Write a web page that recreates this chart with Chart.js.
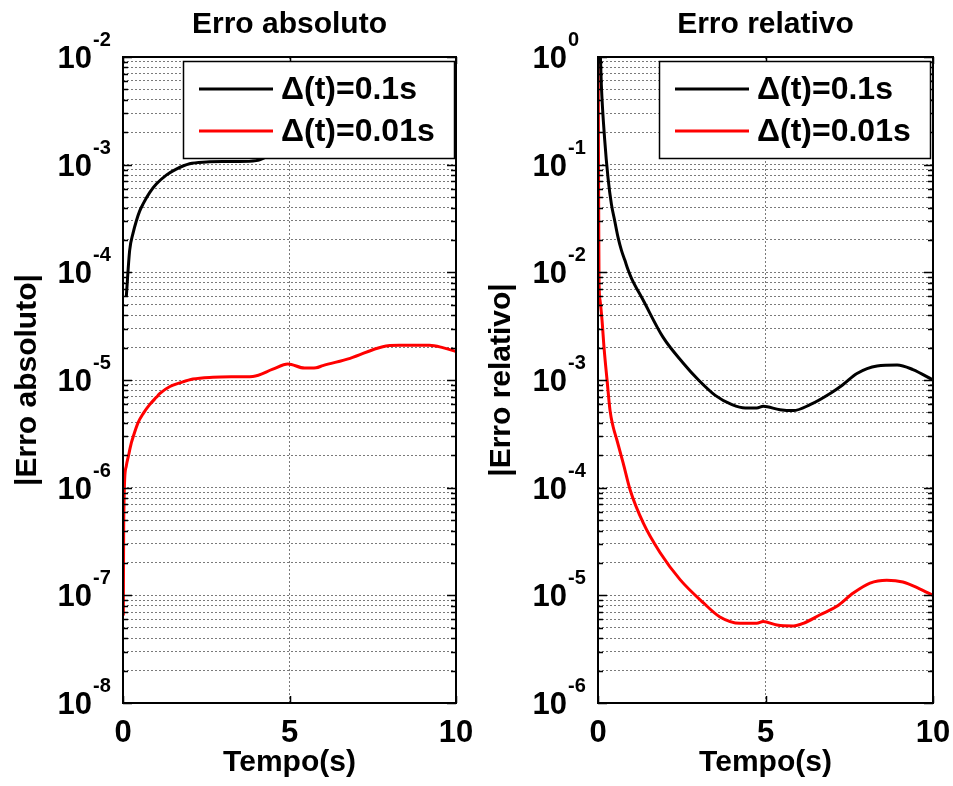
<!DOCTYPE html>
<html>
<head>
<meta charset="utf-8">
<script src="https://cdn.jsdelivr.net/npm/chart.js@4/dist/chart.umd.min.js"></script>
<style>
  html, body { margin: 0; padding: 0; background: #ffffff; }
  body { width: 953px; height: 786px; overflow: hidden; position: relative; }
  canvas { position: absolute; top: 0; }
</style>
</head>
<body>
<canvas id="chartAbs" width="485" height="786" style="left:0px"></canvas>
<canvas id="chartRel" width="468" height="786" style="left:485px"></canvas>
<script>
// ---------- data ----------
const seriesLabels = ['\u0394(t)=0.1s', '\u0394(t)=0.01s'];
const xTickValues = [0, 5, 10];
const absDecades = [-8, -7, -6, -5, -4, -3, -2];
const relDecades = [-6, -5, -4, -3, -2, -1, 0];

// |Erro absoluto|, dt = 0.1 s (black)
const absCoarseT   = [0.1, 0.2, 0.3, 0.4, 0.5, 0.6, 0.8, 1.0, 1.3, 1.6, 2.0, 2.5, 3.0, 3.5, 4.0, 4.5, 5.0, 5.5, 6.0, 7.0, 8.0, 9.0, 10];
const absCoarseErr = [6e-5, 1.6e-4, 2.3e-4, 3.0e-4, 3.7e-4, 4.3e-4, 5.5e-4, 6.6e-4, 8.0e-4, 9.1e-4, 1.02e-3, 1.06e-3, 1.07e-3, 1.07e-3, 1.09e-3, 1.26e-3, 1.4e-3, 1.29e-3, 1.35e-3, 1.63e-3, 2.03e-3, 2.08e-3, 1.84e-3];

// |Erro absoluto|, dt = 0.01 s (red)
const absFineT   = [0.01, 0.02, 0.03, 0.05, 0.1, 0.16, 0.25, 0.31, 0.45, 0.61, 0.8, 1.0, 1.11, 1.41, 1.71, 2.1, 2.7, 3.3, 3.9, 4.5, 4.95, 5.45, 5.8, 6.0, 6.82, 7.8, 8.3, 9.2, 9.6, 10];
const absFineErr = [6.5e-8, 4e-7, 7e-7, 1.2e-6, 1.6e-6, 1.95e-6, 2.6e-6, 3.0e-6, 4.0e-6, 4.9e-6, 5.9e-6, 6.9e-6, 7.5e-6, 8.7e-6, 9.4e-6, 1.02e-5, 1.06e-5, 1.07e-5, 1.08e-5, 1.26e-5, 1.41e-5, 1.29e-5, 1.30e-5, 1.36e-5, 1.59e-5, 2.04e-5, 2.1e-5, 2.1e-5, 2.0e-5, 1.84e-5];

// |Erro relativo|, dt = 0.1 s (black)
const relCoarseT   = [0, 0.1, 0.2, 0.3, 0.4, 0.5, 0.6, 0.7, 0.8, 0.9, 1.0, 1.35, 1.94, 2.54, 3.0, 3.5, 4.0, 4.4, 4.74, 4.93, 5.43, 5.83, 6.33, 6.93, 7.3, 7.73, 8.33, 8.93, 9.4, 10];
const relCoarseErr = [5, 0.55, 0.17, 0.075, 0.043, 0.03, 0.021, 0.016, 0.013, 0.0105, 0.0088, 5.5e-3, 2.5e-3, 1.44e-3, 1.0e-3, 7.2e-4, 5.9e-4, 5.5e-4, 5.5e-4, 5.7e-4, 5.3e-4, 5.2e-4, 5.9e-4, 7.5e-4, 9e-4, 1.15e-3, 1.35e-3, 1.38e-3, 1.25e-3, 1.0e-3];

// |Erro relativo|, dt = 0.01 s (red)
const relFineT   = [0, 0.01, 0.02, 0.03, 0.06, 0.12, 0.18, 0.27, 0.36, 0.45, 0.56, 0.75, 0.96, 1.35, 1.85, 2.45, 3.15, 3.64, 4.24, 4.74, 4.93, 5.34, 5.83, 6.13, 6.63, 7.13, 7.62, 8.12, 8.62, 9.1, 9.6, 10];
const relFineErr = [2, 0.3, 0.04, 0.0085, 5.5e-3, 3.6e-3, 2.0e-3, 1.0e-3, 5.2e-4, 3.7e-4, 2.8e-4, 1.7e-4, 9.5e-5, 4.7e-5, 2.5e-5, 1.4e-5, 8.5e-6, 6.3e-6, 5.5e-6, 5.5e-6, 5.7e-6, 5.3e-6, 5.2e-6, 5.5e-6, 6.6e-6, 7.9e-6, 1.05e-5, 1.3e-5, 1.38e-5, 1.33e-5, 1.15e-5, 1.0e-5];

// ---------- helpers ----------
const FONT = '"Liberation Sans", Arial, Helvetica, sans-serif';
function pts(ts, vs) { return ts.map((t, i) => ({ x: t, y: vs[i] })); }
function logTicks(decades) {
  const out = [];
  for (let k = 0; k < decades.length; k++) {
    const e = decades[k];
    out.push({ value: Math.pow(10, e), major: true });
    if (k < decades.length - 1) {
      for (let d = 2; d <= 9; d++) out.push({ value: d * Math.pow(10, e), major: false });
    }
  }
  return out;
}

const decorPlugin = {
  id: 'matlabDecor',
  afterDatasetsDraw(chart, args, o) {
    const { ctx, chartArea: a } = chart;
    const xs = chart.scales.x, ys = chart.scales.y;
    ctx.save();
    // tick marks (inside, both sides)
    ctx.strokeStyle = '#000';
    ctx.lineWidth = 1.5;
    ctx.beginPath();
    ys.ticks.forEach(t => {
      const py = Math.round(ys.getPixelForValue(t.value)) + 0.5;
      const L = t.major ? 9 : 5;
      ctx.moveTo(a.left, py); ctx.lineTo(a.left + L, py);
      ctx.moveTo(a.right, py); ctx.lineTo(a.right - L, py);
    });
    xTickValues.forEach(v => {
      const px = Math.round(xs.getPixelForValue(v)) + 0.5;
      ctx.moveTo(px, a.bottom); ctx.lineTo(px, a.bottom - 7);
      ctx.moveTo(px, a.top); ctx.lineTo(px, a.top + 7);
    });
    ctx.stroke();
    // axes box
    ctx.lineWidth = 2;
    ctx.strokeRect(a.left, a.top, a.right - a.left, a.bottom - a.top);

    // legend (opaque, drawn over the curves)
    const bx = a.right - o.legendRight - o.legendW, by = a.top + 4, bw = o.legendW, bh = 97;
    ctx.fillStyle = '#fff';
    ctx.fillRect(bx, by, bw, bh);
    ctx.lineWidth = 1.5;
    ctx.strokeStyle = '#000';
    ctx.strokeRect(bx + 0.5, by + 0.5, bw, bh);
    ctx.font = 'bold 32px ' + FONT;
    ctx.textAlign = 'left';
    ctx.textBaseline = 'middle';
    chart.data.datasets.forEach((ds, i) => {
      const ly = by + 28 + i * 42;
      ctx.strokeStyle = ds.borderColor;
      ctx.lineWidth = 3;
      ctx.beginPath();
      ctx.moveTo(bx + 16, ly); ctx.lineTo(bx + 90, ly);
      ctx.stroke();
      ctx.fillStyle = '#000';
      ctx.fillText(ds.label, bx + 98, ly + 1);
    });

    // y tick labels 10^e
    ctx.fillStyle = '#000';
    o.decades.forEach(e => {
      const py = ys.getPixelForValue(Math.pow(10, e));
      ctx.font = 'bold 31px ' + FONT;
      ctx.textAlign = 'right';
      ctx.textBaseline = 'alphabetic';
      ctx.fillText('10', a.left - 31, py + 11);
      ctx.font = 'bold 20px ' + FONT;
      ctx.textAlign = 'left';
      ctx.fillText(String(e), a.left - 30, py - 11);
    });
    // x tick labels
    ctx.font = 'bold 31px ' + FONT;
    ctx.textAlign = 'center';
    ctx.textBaseline = 'alphabetic';
    xTickValues.forEach(v => {
      ctx.fillText(String(v), xs.getPixelForValue(v), a.bottom + 39);
    });
    // x axis title
    ctx.font = 'bold 30px ' + FONT;
    ctx.fillText('Tempo(s)', (a.left + a.right) / 2, a.bottom + 68);
    // chart title
    ctx.font = 'bold 30px ' + FONT;
    ctx.fillText(o.title, (a.left + a.right) / 2, 33);
    // y axis title
    ctx.font = 'bold 30px ' + FONT;
    ctx.translate(o.yTitleX, (a.top + a.bottom) / 2);
    ctx.rotate(-Math.PI / 2);
    ctx.textBaseline = 'middle';
    ctx.fillText(o.yTitle, 0, 0);
    ctx.restore();
  }
};

function makeChart(id, coarseT, coarseE, fineT, fineE, decades, pad, title, yTitle, yTitleX, legendRight) {
  const yMin = Math.pow(10, decades[0]);
  const yMax = Math.pow(10, decades[decades.length - 1]);
  return new Chart(document.getElementById(id), {
    type: 'line',
    data: {
      datasets: [
        { label: seriesLabels[0], data: pts(coarseT, coarseE), borderColor: '#000000', borderWidth: 3, pointRadius: 0, cubicInterpolationMode: 'monotone', fill: false },
        { label: seriesLabels[1], data: pts(fineT, fineE), borderColor: '#ff0000', borderWidth: 3, pointRadius: 0, cubicInterpolationMode: 'monotone', fill: false }
      ]
    },
    options: {
      responsive: false,
      animation: false,
      devicePixelRatio: 1,
      layout: { padding: pad },
      plugins: {
        legend: { display: false },
        tooltip: { enabled: false },
        title: { display: false },
        matlabDecor: { decades, title, yTitle, yTitleX, legendW: 271, legendRight: legendRight }
      },
      scales: {
        x: {
          type: 'linear', min: 0, max: 10,
          afterBuildTicks: s => { s.ticks = xTickValues.map(v => ({ value: v })); },
          ticks: { display: false },
          grid: { display: true, drawTicks: false, color: '#7a7a7a', lineWidth: 1 },
          border: { display: false, dash: [2, 2] }
        },
        y: {
          type: 'logarithmic', min: yMin, max: yMax,
          afterBuildTicks: s => { s.ticks = logTicks(decades); },
          ticks: { display: false },
          grid: { display: true, drawTicks: false, color: '#7a7a7a', lineWidth: 1 },
          border: { display: false, dash: [2, 2] }
        }
      }
    },
    plugins: [decorPlugin]
  });
}

makeChart('chartAbs', absCoarseT, absCoarseErr, absFineT, absFineErr, absDecades,
  { left: 123, right: 29, top: 57, bottom: 83 }, 'Erro absoluto', '|Erro absoluto|', 28, 2);
makeChart('chartRel', relCoarseT, relCoarseErr, relFineT, relFineErr, relDecades,
  { left: 113, right: 20, top: 57, bottom: 83 }, 'Erro relativo', '|Erro relativo|', 17, 3);
</script>
</body>
</html>
